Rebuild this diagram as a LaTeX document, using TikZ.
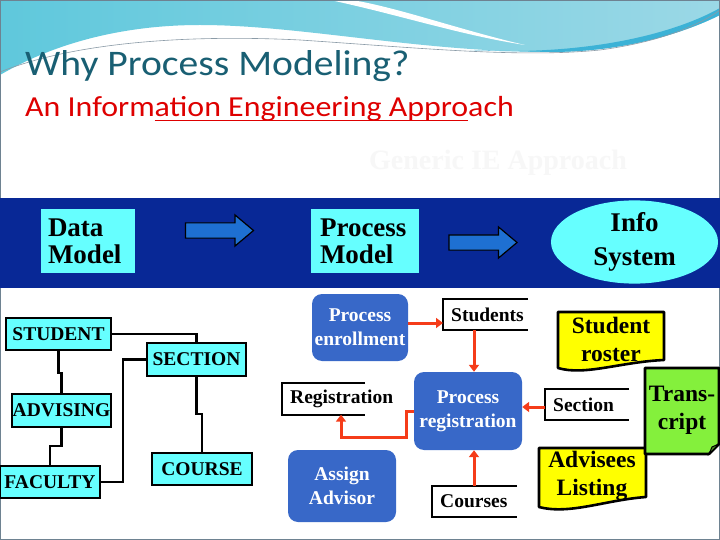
\documentclass[tikz,border=0pt]{standalone}
\usepackage{fontspec}
\setmainfont{Liberation Serif}
\newfontfamily\titlefont{Carlito}[FakeStretch=1.1]
\usetikzlibrary{arrows.meta,calc,shapes.geometric,shapes.arrows}

\definecolor{navyband}{RGB}{8,40,150}
\definecolor{cyanbox}{RGB}{102,255,255}
\definecolor{arrowblue}{RGB}{30,112,210}
\definecolor{procblue}{RGB}{56,104,200}
\definecolor{flowred}{RGB}{245,60,25}
\definecolor{docyellow}{RGB}{255,255,0}
\definecolor{notegreen}{RGB}{132,240,60}
\definecolor{titleteal}{RGB}{25,95,115}
\definecolor{subred}{RGB}{222,0,0}
\definecolor{wavecyan}{RGB}{95,200,220}
\definecolor{wavelight}{RGB}{155,216,230}
\definecolor{wavedeep}{RGB}{60,178,214}
\definecolor{framegray}{RGB}{110,130,145}

\newcommand\redline[1]{\setbox0\hbox{#1}\rlap{\raisebox{-4.5pt}{\color{subred}\rule{\wd0}{1.8pt}}}\box0}

\begin{document}
\begin{tikzpicture}[>=Stealth,x=1pt,y=-1pt,font=\bfseries,
 hdr/.style={fill=cyanbox,align=left,inner xsep=7pt,inner ysep=0pt,text width=80pt,minimum height=64pt,font=\fontsize{27}{27}\selectfont\bfseries},
 ent/.style={draw,line width=2.6pt,fill=cyanbox,inner sep=0pt,minimum height=32pt,font=\fontsize{19.5}{19.5}\selectfont\bfseries},
 proc/.style={fill=procblue,rounded corners=10pt,text=white,align=center,inner sep=0pt,font=\fontsize{19.5}{24}\selectfont\bfseries},
 store/.style={anchor=west,inner xsep=8pt,inner ysep=0pt,minimum height=31pt,font=\fontsize{19.5}{19.5}\selectfont\bfseries},
 doc/.style={align=center,inner sep=0pt,font=\fontsize{23.5}{28}\selectfont\bfseries},
 outline/.style={draw=black,line width=2.6pt,line join=round},
 er/.style={line width=2.6pt},
 storeline/.style={line width=2.2pt},
 flow/.style={draw=flowred,line width=3pt,-{Triangle[length=7pt,width=10pt]}},
 blk/.style={single arrow,draw,line width=1.2pt,fill=arrowblue,minimum height=68pt,inner xsep=0pt,inner ysep=7pt,single arrow head extend=8pt,single arrow tip angle=80}]
\useasboundingbox (0,0) rectangle (720,540);
% slide background
\fill[white] (0,0) rectangle (720,540);
\shade[left color=wavecyan,right color=wavelight] (0,0) -- (720,0) -- (720,15) .. controls (680,35) and (620,52) .. (550,52) .. controls (420,52) and (300,25) .. (200,25) .. controls (130,25) and (60,40) .. (0,75) -- cycle;
\fill[white] (330,0) .. controls (400,15) and (460,35) .. (525,45) .. controls (460,30) and (400,8) .. (352,0) -- cycle;
\fill[wavedeep] (470,50) .. controls (580,56) and (670,36) .. (720,8) -- (720,15) .. controls (680,35) and (620,52) .. (550,52) -- cycle;
\draw[framegray!80,line width=0.6pt] (0,72) .. controls (80,40) and (200,35) .. (300,40) .. controls (420,48) and (520,58) .. (600,50) .. controls (660,42) and (700,25) .. (720,10);
\draw[framegray,line width=1pt] (0.5,0.5) rectangle (719.5,539.5);
% titles
\node[anchor=base west,inner sep=0pt,text=titleteal,font=\titlefont\fontsize{36}{36}\selectfont] (title) at (25,76) {Why Process Modeling?};
\node[anchor=base west,inner sep=0pt,text=subred,font=\titlefont\fontsize{29}{29}\selectfont] (subtitle) at (25,117) {An Inform\redline{ation Engineering Appro}ach};
\node[text=white!97!black,font=\fontsize{28}{28}\selectfont\bfseries] (generic) at (498,163) {Generic IE Approach};
% band
\fill[navyband] (0,198) rectangle (720,288);
\node[hdr] (dmodel) at (88,241) {Data\\Model};
\node[blk] (arr1) at (215,230.5) {};
\node[hdr,inner xsep=9pt,text width=90pt] (pmodel) at (365,241) {Process\\Model};
\node[blk] (arr2) at (478.5,242.5) {};
\node[ellipse,fill=cyanbox,inner sep=0pt,minimum width=167pt,minimum height=74pt,align=center,font=\fontsize{27}{34}\selectfont\bfseries] (infosys) at (634.5,242) {Info\\System};
% data model
\node[ent,minimum width=105pt] (student) at (58.5,334) {STUDENT};
\node[ent,minimum width=99pt,minimum height=33pt] (section) at (196.5,359.5) {SECTION};
\node[ent,minimum width=99pt,minimum height=33pt] (advising) at (61.5,410.5) {ADVISING};
\node[ent,minimum width=100pt] (faculty) at (50,482) {FACULTY};
\node[ent,minimum width=100pt] (course) at (202,469) {COURSE};
\draw[er] (student.east) -| (section.north);
\draw[er] (student.south) -- (student.south |- 0,373) -- (advising.north |- 0,373) -- (advising.north);
\draw[er] (advising.south) -- (advising.south |- 0,446) -- (faculty.north |- 0,446) -- (faculty.north);
\draw[er] (faculty.east) -- (123,482) |- (section.west);
\draw[er] (section.south) -- (section.south |- 0,414) -- (course.north |- 0,414) -- (course.north);
% process model
\node[proc,minimum width=96pt,minimum height=67pt] (penroll) at (360,327.5) {Process\\enrollment};
\node[proc,minimum width=108pt,minimum height=78pt] (preg) at (468,411) {Process\\registration};
\node[proc,minimum width=108pt,minimum height=72pt] (passign) at (342,486) {Assign\\Advisor};
\node[store] (sstud) at (443,314.5) {Students};
\node[store] (sreg) at (282,399) {Registration};
\node[store] (scour) at (432,501.5) {Courses};
\node[store] (ssect) at (545,404.5) {Section};
\draw[storeline] ($(sstud.north west)+(85,0)$) -- (sstud.north west) -- (sstud.south west) -- ++(85,0);
\draw[storeline] ($(sreg.north west)+(83,0)$) -- (sreg.north west) -- (sreg.south west) -- ++(83,0);
\draw[storeline] ($(scour.north west)+(85,0)$) -- (scour.north west) -- (scour.south west) -- ++(85,0);
\draw[storeline] ($(ssect.north west)+(84,0)$) -- (ssect.north west) -- (ssect.south west) -- ++(84,0);
\draw[flow] ([yshift=4.5pt]penroll.east) -- ([yshift=4.5pt]penroll.east -| sstud.west);
\draw[flow] ([xshift=6pt]preg.north |- sstud.south) -- ([xshift=6pt]preg.north);
\draw[flow] ([xshift=6pt]preg.south |- scour.north) -- ([xshift=6pt]preg.south);
\draw[flow] ([yshift=-2.5pt]ssect.west) -- ([yshift=-2.5pt]ssect.west -| preg.east);
\draw[flow] (preg.west) -- ++(-7,0) -- ++(0,26) -| ([xshift=59pt]sreg.south west);
% reports
\fill[docyellow] (558,312) -- (664,312) -- (664,360) .. controls (620,362) and (585,376) .. (558,368) -- cycle;
\draw[outline] (558,312) -- (664,312) -- (664,360) .. controls (620,362) and (585,376) .. (558,368) -- cycle;
\node[doc] (roster) at (611,339) {Student\\roster};
\fill[docyellow] (539,448) -- (646,448) -- (646,497) .. controls (605,500) and (570,515) .. (539,507) -- cycle;
\draw[outline] (539,448) -- (646,448) -- (646,497) .. controls (605,500) and (570,515) .. (539,507) -- cycle;
\node[doc] (advlist) at (592,476) {Advisees\\Listing};
\fill[notegreen] (645,368) -- (719,368) -- (719,444) -- (709,454) -- (645,454) -- cycle;
\draw[outline] (645,368) -- (719,368) -- (719,444) -- (709,454) -- (645,454) -- cycle;
\filldraw[fill=notegreen!60!black,draw=black,line width=1pt] (709,454) -- (712,447) -- (719,444) -- cycle;
\node[doc] (transcr) at (682,410) {Trans-\\cript};
\end{tikzpicture}
\end{document}
